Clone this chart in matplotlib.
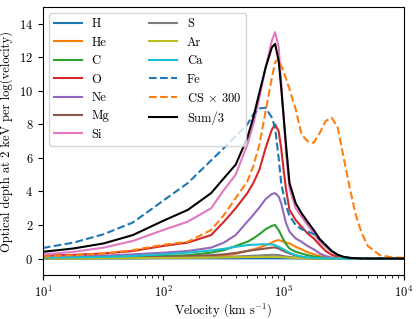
from matplotlib import pyplot as plt

plt.rcParams["font.family"] = "serif"
plt.rcParams["font.serif"] = ["cmr10"]
plt.rcParams["mathtext.fontset"] = "cm"
plt.rcParams["axes.formatter.use_mathtext"] = True
plt.rcParams["font.size"] = 9

# velocity grid in km/s
velocity = [10, 18, 32, 56, 100, 160, 250, 320, 400, 500, 560, 630, 710, 800, 850,
            910, 955, 1000, 1050, 1120, 1260, 1410, 1580, 1780, 2000, 2240, 2510, 2820, 3160,
            3550, 3980, 4470, 5010, 6310, 7940, 10000]

tau_h = [0.0, 0.0, 0.0, 0.0, 0.01, 0.01, 0.01, 0.01, 0.01, 0.01, 0.01, 0.01, 0.01, 0.01, 0.01,
         0.01, 0.01, 0.01, 0.01, 0.01, 0.0, 0.0, 0.0, 0.0, 0.0, 0.0, 0.0, 0.0, 0.0,
         0.0, 0.0, 0.0, 0.0, 0.0, 0.0, 0.0]
tau_he = [0.02, 0.02, 0.03, 0.04, 0.05, 0.07, 0.12, 0.18, 0.28, 0.45, 0.55, 0.65, 0.8, 0.95, 1.05,
          1.1, 1.05, 1.0, 0.95, 0.9, 0.7, 0.55, 0.38, 0.25, 0.15, 0.08, 0.04, 0.02, 0.01,
          0.0, 0.0, 0.0, 0.0, 0.0, 0.0, 0.0]
tau_c = [0.05, 0.06, 0.08, 0.11, 0.15, 0.2, 0.35, 0.5, 0.75, 1.0, 1.2, 1.45, 1.75, 1.95, 2.0,
         1.7, 1.4, 1.1, 0.85, 0.6, 0.4, 0.3, 0.2, 0.12, 0.07, 0.03, 0.01, 0.0, 0.0,
         0.0, 0.0, 0.0, 0.0, 0.0, 0.0, 0.0]
tau_o = [0.17, 0.22, 0.3, 0.45, 0.75, 0.95, 1.4, 2.2, 3.0, 3.9, 4.5, 5.3, 6.6, 7.7, 8.0,
         7.6, 6.6, 5.3, 4.1, 2.9, 2.3, 1.9, 1.5, 1.2, 0.8, 0.45, 0.22, 0.1, 0.05,
         0.02, 0.0, 0.0, 0.0, 0.0, 0.0, 0.0]
tau_ne = [0.1, 0.13, 0.17, 0.25, 0.35, 0.45, 0.65, 0.95, 1.4, 2.2, 2.6, 3.05, 3.55, 3.85, 3.9,
          3.7, 3.3, 2.7, 2.1, 1.6, 1.2, 1.0, 0.75, 0.55, 0.3, 0.15, 0.06, 0.02, 0.0,
          0.0, 0.0, 0.0, 0.0, 0.0, 0.0, 0.0]
tau_mg = [0.02, 0.03, 0.04, 0.06, 0.1, 0.14, 0.2, 0.25, 0.33, 0.45, 0.5, 0.55, 0.6, 0.65, 0.66,
          0.6, 0.52, 0.45, 0.38, 0.3, 0.18, 0.1, 0.05, 0.02, 0.01, 0.0, 0.0, 0.0, 0.0,
          0.0, 0.0, 0.0, 0.0, 0.0, 0.0, 0.0]
tau_si = [0.24, 0.4, 0.65, 1.05, 1.7, 2.2, 3.0, 4.1, 5.0, 6.8, 8.0, 9.6, 11.4, 13.0, 13.5,
          12.6, 10.5, 8.5, 6.3, 4.2, 3.0, 2.5, 2.0, 1.5, 1.0, 0.7, 0.4, 0.2, 0.08,
          0.03, 0.01, 0.0, 0.0, 0.0, 0.0, 0.0]
tau_s = [0.01, 0.01, 0.02, 0.03, 0.05, 0.06, 0.08, 0.1, 0.12, 0.15, 0.17, 0.18, 0.2, 0.22, 0.22,
         0.2, 0.18, 0.15, 0.12, 0.1, 0.05, 0.03, 0.01, 0.0, 0.0, 0.0, 0.0, 0.0, 0.0,
         0.0, 0.0, 0.0, 0.0, 0.0, 0.0, 0.0]
tau_ar = [0.01, 0.01, 0.01, 0.02, 0.03, 0.04, 0.05, 0.07, 0.08, 0.09, 0.09, 0.1, 0.1, 0.1, 0.1,
          0.09, 0.09, 0.08, 0.07, 0.05, 0.03, 0.02, 0.01, 0.0, 0.0, 0.0, 0.0, 0.0, 0.0,
          0.0, 0.0, 0.0, 0.0, 0.0, 0.0, 0.0]
tau_ca = [0.05, 0.07, 0.1, 0.15, 0.25, 0.35, 0.48, 0.58, 0.7, 0.8, 0.82, 0.84, 0.85, 0.84, 0.8,
          0.7, 0.62, 0.55, 0.45, 0.35, 0.2, 0.12, 0.07, 0.04, 0.02, 0.01, 0.0, 0.0, 0.0,
          0.0, 0.0, 0.0, 0.0, 0.0, 0.0, 0.0]
tau_fe = [0.63, 0.95, 1.45, 2.15, 3.45, 4.5, 5.85, 6.6, 7.3, 8.0, 8.6, 8.95, 9.0, 8.4, 7.8,
          6.0, 4.5, 3.8, 3.1, 2.55, 2.0, 1.75, 1.62, 1.45, 1.15, 0.8, 0.45, 0.22, 0.1,
          0.04, 0.02, 0.0, 0.0, 0.0, 0.0, 0.0]
tau_cs = [0.12, 0.2, 0.3, 0.5, 0.82, 1.0, 1.7, 2.6, 3.6, 4.6, 5.5, 6.8, 8.8, 10.8, 11.7,
          11.9, 11.5, 11.2, 10.7, 10.1, 8.9, 7.4, 7.0, 6.9, 7.5, 8.2, 8.4, 7.8, 6.0,
          4.2, 2.6, 1.5, 0.75, 0.2, 0.07, 0.04]
tau_sum = [0.4, 0.6, 0.9, 1.4, 2.25, 2.9, 3.9, 4.8, 5.6, 7.2, 8.4, 9.9, 11.4, 12.6, 12.8,
           11.8, 10.2, 8.5, 6.7, 4.5, 3.3, 2.7, 2.2, 1.7, 1.15, 0.8, 0.45, 0.22, 0.1,
           0.04, 0.02, 0.0, 0.0, 0.0, 0.0, 0.0]

elements = ["H", "He", "C", "O", "Ne", "Mg", "Si", "S", "Ar", "Ca"]
element_taus = [tau_h, tau_he, tau_c, tau_o, tau_ne, tau_mg, tau_si, tau_s, tau_ar, tau_ca]

fig, ax = plt.subplots(figsize=(4.16, 3.19), dpi=100)
fig.subplots_adjust(left=0.103, right=0.971, bottom=0.137, top=0.978)

for i, (name, tau) in enumerate(zip(elements, element_taus)):
    ax.plot(velocity, tau, color=f"C{i}", label=name)
ax.plot(velocity, tau_fe, color="C0", linestyle="--", label="Fe")
ax.plot(velocity, tau_cs, color="C1", linestyle="--", label=r"CS $\times$ 300")
ax.plot(velocity, tau_sum, color="black", label="Sum/3")

ax.set_xscale("log")
ax.set_xlim(10, 1e4)
ax.set_ylim(-1, 15)
ax.set_yticks([0, 2, 4, 6, 8, 10, 12, 14])
ax.set_xlabel(r"Velocity (km s$^{-1}$)", labelpad=1)
ax.set_ylabel("Optical depth at 2 keV per log(velocity)")
ax.legend(loc="upper left", ncol=2, handlelength=2.2, columnspacing=3.2)

plt.savefig("out.png")
